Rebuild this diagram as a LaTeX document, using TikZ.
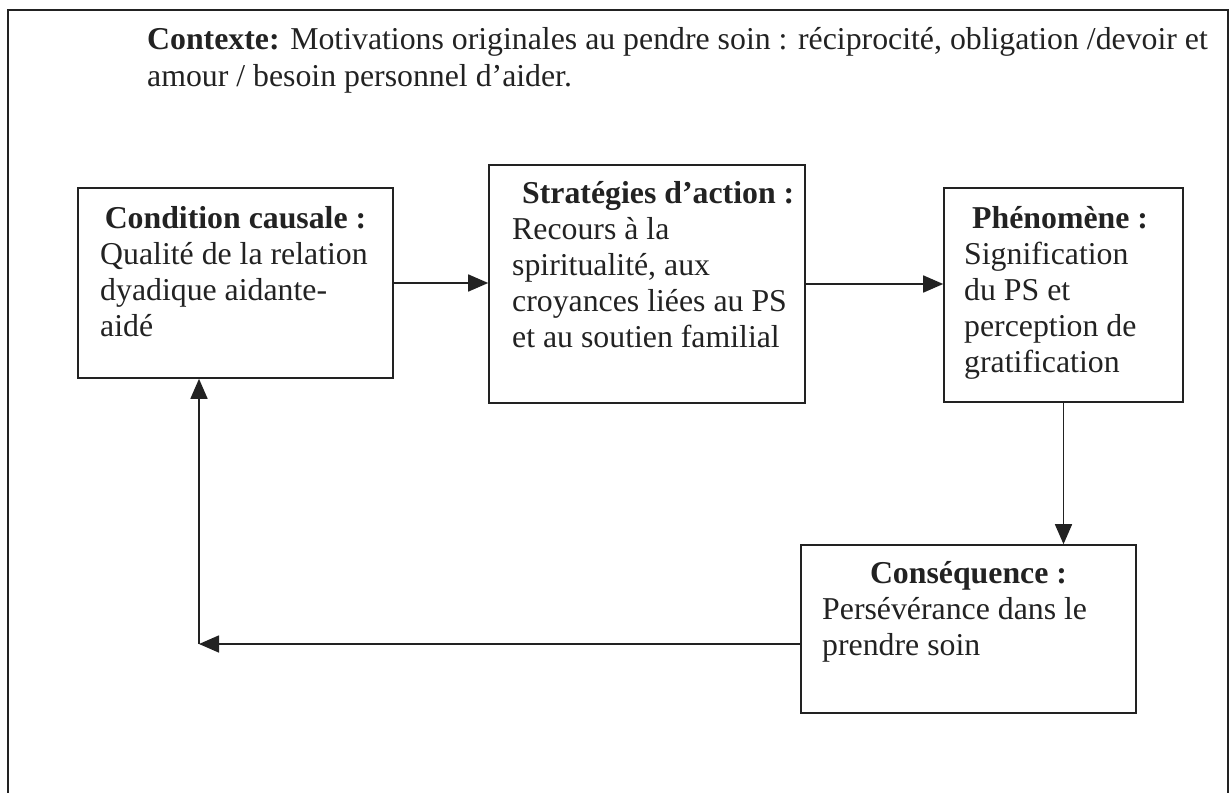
\documentclass[tikz,border=0pt]{standalone}
\usepackage{fontspec}
\setmainfont{Liberation Serif}
\usetikzlibrary{arrows.meta}
\definecolor{ink}{HTML}{222222}
\tikzset{
  box/.style={draw=ink, line width=1.6pt, inner sep=0pt, rectangle},
  txt/.style={inner sep=0pt, text=ink, font=\fontsize{31.8}{36}\selectfont},
  arr/.style={draw=ink, line width=1.6pt, -{Triangle[length=20pt,width=17pt]}},
}
\newcommand{\lines}[1]{\begin{tabular}[t]{@{}l@{}}#1\end{tabular}}
\begin{document}
\begin{tikzpicture}[x=1pt,y=-1pt]
\useasboundingbox (0,0) rectangle (1230,792);
% outer frame, open at the bottom edge of the page
\draw[ink, line width=1.6pt] (8,800) -- (8,10) -- (1228,10) -- (1228,800);

% context text
\node[txt, anchor=base west] (ctx) at (147,50)
  {\lines{\textbf{Contexte:} Motivations originales au pendre soin : réciprocité, obligation /devoir et\\
  amour / besoin personnel d’aider.}};

% boxes
\node[box, minimum width=315pt, minimum height=190pt] (cc) at (235.5,283) {};
\node[box, minimum width=316pt, minimum height=238pt] (sa) at (647,284) {};
\node[box, minimum width=239pt, minimum height=214pt] (ph) at (1063.5,295) {};
\node[box, minimum width=335pt, minimum height=168pt] (co) at (968.5,629) {};

% box texts
\node[txt, anchor=base] (cct) at (235.5,228) {\textbf{Condition causale :}};
\node[txt, anchor=base west] (ccb) at (100,264)
  {\lines{Qualité de la relation\\dyadique aidante-\\aidé}};

\node[txt, anchor=base west] (sat) at (522,203) {\textbf{Stratégies d’action :}};
\node[txt, anchor=base west] (sab) at (512,239)
  {\lines{Recours à la\\spiritualité, aux\\croyances liées au PS\\et au soutien familial}};

\node[txt, anchor=base west] (pht) at (972,228) {\textbf{Phénomène :}};
\node[txt, anchor=base west] (phb) at (964,264)
  {\lines{Signification\\du PS et\\perception de\\gratification}};

\node[txt, anchor=base] (cot) at (968.5,583) {\textbf{Conséquence :}};
\node[txt, anchor=base west] (cob) at (822,619)
  {\lines{Persévérance dans le\\prendre soin}};

% connectors
\coordinate (k) at (199,644);
\draw[arr] (cc.east) -- (cc.east -| sa.west);
\draw[arr] (sa.east) -- (sa.east -| ph.west);
\draw[arr] (ph.south) -- (ph.south |- co.north);
\draw[arr] (k -| co.west) -- (k);
\draw[arr] (k) -- (k |- cc.south);
\end{tikzpicture}
\end{document}
